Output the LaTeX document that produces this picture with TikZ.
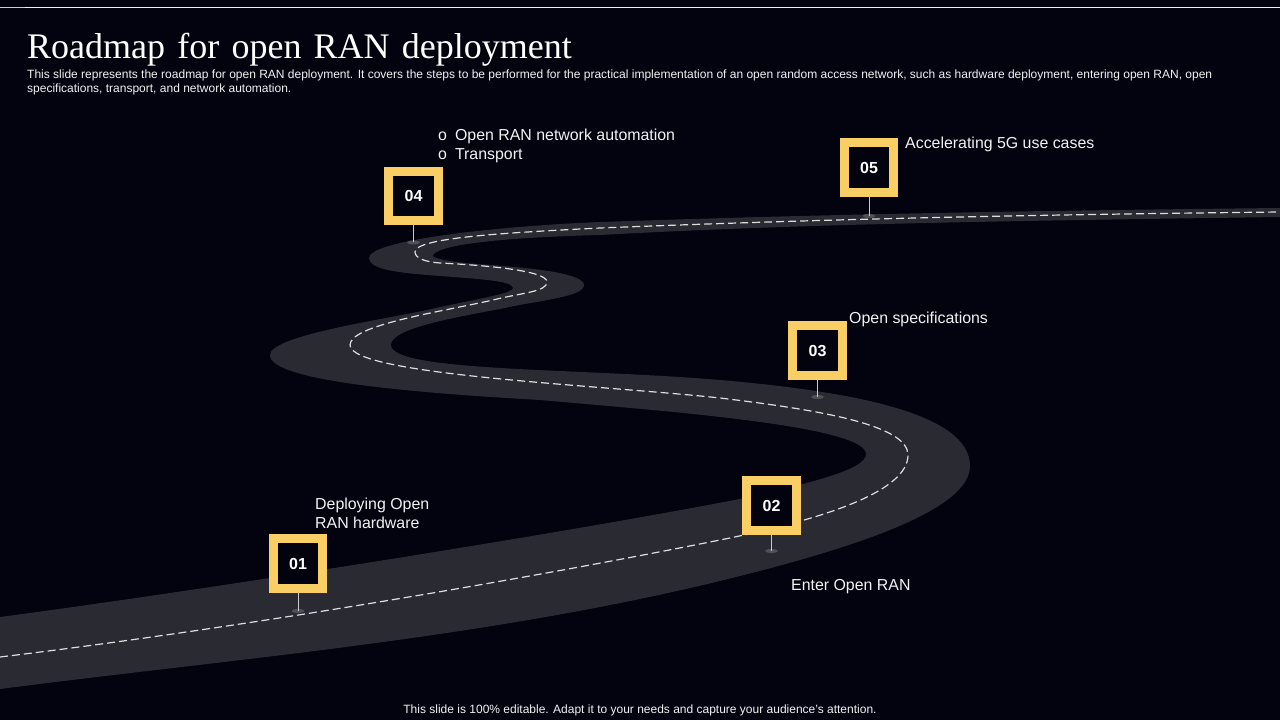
\documentclass[tikz,border=0pt]{standalone}
\usepackage{fontspec}
\setmainfont{Liberation Sans}
\newfontfamily\titlefont{Liberation Serif}
\usepackage{xcolor}
\definecolor{colorBack}{HTML}{02030F}
\definecolor{colorRoad}{HTML}{2A2A33}
\definecolor{colorMark}{HTML}{F9CE64}
\definecolor{colorText}{HTML}{F2F2F2}
\usetikzlibrary{positioning, shapes.geometric}
\tikzset{
  marker/.style={draw=colorMark, fill=colorBack, line width=9pt, minimum size=49.5pt, inner sep=0pt, text=white, font=\fontsize{16}{19}\selectfont\bfseries},
  stembase/.style={ellipse, fill=gray!45!colorRoad, minimum width=13pt, minimum height=4pt, inner sep=0pt},
  stem/.style={draw=white!75!colorRoad, line width=1pt},
  label/.style={anchor=base west, inner sep=0pt, align=left, text=colorText, font=\fontsize{15.9}{19}\selectfont},
  small/.style={label, font=\fontsize{12}{14}\selectfont},
}

\begin{document}
\begin{tikzpicture}[x=1pt, y=-1pt]
\useasboundingbox (0,0) rectangle (1280,720);
\clip (0,0) rectangle (1280,720);
\fill[colorBack] (0,0) rectangle (1280,720);
\draw[white!70!colorMark, line width=1pt] (0,7.5) -- (1280,7.5);
\draw[colorMark, line width=1pt] (0,7.5) -- (25,7.5);
% road
\fill[colorRoad] (0,689) .. controls (240,658) and (480,639) .. (720,581)
  .. controls (855,548) and (970,510) .. (970,466)
  .. controls (970,415) and (860,392) .. (720,380)
  .. controls (580,368) and (391,372) .. (391,345)
  .. controls (391,330) and (440,320) .. (500,309)
  .. controls (540,300) and (584,297) .. (584,285)
  .. controls (584,272) and (520,267) .. (477,264)
  .. controls (450,262) and (430,258) .. (433,255)
  .. controls (440,243) and (520,237) .. (600,235)
  .. controls (800,224) and (1000,221) .. (1280,217)
  -- (1280,208)
  .. controls (1000,211) and (800,215) .. (600,222)
  .. controls (500,226) and (369,240) .. (369,258)
  .. controls (369,270) and (400,273) .. (440,276)
  .. controls (480,279) and (513,281) .. (513,288)
  .. controls (513,294) and (470,300) .. (427,310)
  .. controls (380,320) and (270,336) .. (270,355)
  .. controls (270,380) and (400,392) .. (540,400)
  .. controls (650,410) and (866,425) .. (866,454)
  .. controls (866,470) and (810,482) .. (760,495)
  .. controls (600,527) and (240,585) .. (0,617) -- cycle;
\draw[colorText!90!colorRoad, line width=1.2pt, dash pattern=on 8pt off 4pt] (0,657)
  .. controls (240,628) and (520,580) .. (720,540)
  .. controls (830,518) and (908,490) .. (908,455)
  .. controls (908,425) and (820,410) .. (720,398)
  .. controls (600,385) and (350,375) .. (350,345)
  .. controls (350,325) and (440,312) .. (493,300)
  .. controls (520,293) and (547,292) .. (547,282)
  .. controls (547,270) and (480,265) .. (440,263)
  .. controls (425,262) and (415,258) .. (415,252)
  .. controls (415,238) and (500,233) .. (600,228)
  .. controls (800,220) and (1000,215) .. (1280,212);
% markers
\node[marker] (m01) at (298,563.5) {01};
\node[marker] (m02) at (771.5,505.5) {02};
\node[marker] (m03) at (817.5,350.5) {03};
\node[marker] (m04) at (413.5,196) {04};
\node[marker] (m05) at (869,167.5) {05};
\node[stembase, below=16pt of m01] (b01) {};
\node[stembase, below=14pt of m02] (b02) {};
\node[stembase, below=15pt of m03] (b03) {};
\node[stembase, below=15pt of m04] (b04) {};
\node[stembase, below=17pt of m05] (b05) {};
\draw[stem] (m01) -- (b01.center);
\draw[stem] (m02) -- (b02.center);
\draw[stem] (m03) -- (b03.center);
\draw[stem] (m04) -- (b04.center);
\draw[stem] (m05) -- (b05.center);
% labels
\node[label] (l01a) at (315,509) {Deploying Open};
\node[label] (l01b) at (315,528) {RAN hardware};
\node[label] (l02) at (791,590) {Enter Open RAN};
\node[label] (l03) at (849,323) {Open specifications};
\node[label] (l04a) at (438,140) {o\hspace{8pt}Open RAN network automation};
\node[label] (l04b) at (438,159) {o\hspace{8pt}Transport};
\node[label] (l05) at (905,148) {Accelerating 5G use cases};
% heading
\node[label, text=white, font=\fontsize{36}{40}\titlefont] (title) at (27,58) {\spaceskip=12.2pt Roadmap for open RAN deployment};
\node[small] (sub1) at (27,78.5) {This slide represents the roadmap for open RAN deployment. It covers the steps to be performed for the practical implementation of an open random access network, such as hardware deployment, entering open RAN, open};
\node[small] (sub2) at (27,92) {specifications, transport, and network automation.};
\node[small, anchor=base] (foot) at (640,713.5) {This slide is 100\% editable. Adapt it to your needs and capture your audience's attention.};
\end{tikzpicture}
\end{document}
